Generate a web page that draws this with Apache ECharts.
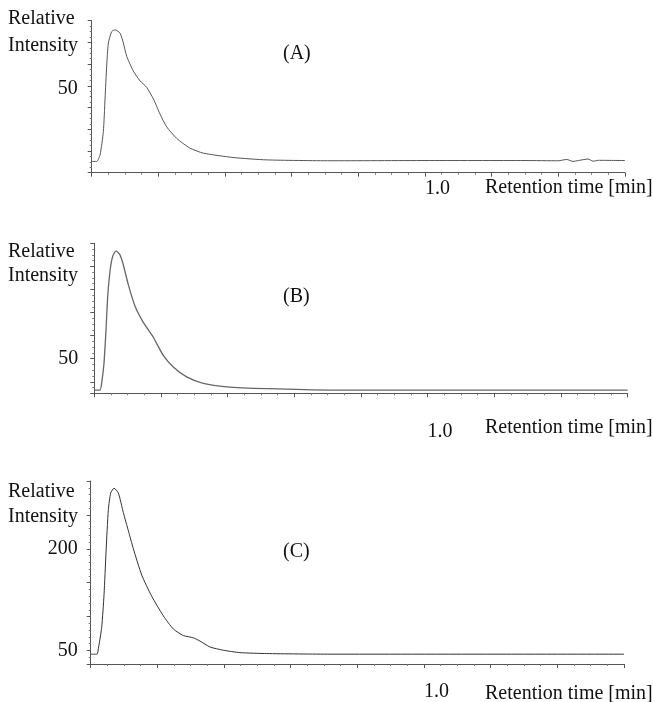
<!DOCTYPE html>
<html>
<head>
<meta charset="utf-8">
<script src="https://cdn.jsdelivr.net/npm/echarts@6/dist/echarts.min.js"></script>
<style>
  html, body { margin: 0; padding: 0; background: #fff; }
  #container { width: 653px; height: 702px; }
</style>
</head>
<body>
<div id="container"></div>
<script>
// retention time (min) and relative intensity
var timeA = [0, 0.015, 0.025, 0.035, 0.040, 0.045, 0.050, 0.060, 0.070, 0.085, 0.095, 0.105, 0.125, 0.145, 0.165, 0.185, 0.205, 0.225, 0.255, 0.295, 0.335, 0.424, 0.525, 0.715, 1.0, 1.3, 1.40, 1.425, 1.444, 1.46, 1.489, 1.504, 1.52, 1.6];
var valA  = [15.2, 15.2, 18.2, 29.0, 44.0, 59.1, 69.7, 75.0, 75.8, 74.3, 69.7, 63.6, 56.8, 52.3, 49.3, 44.0, 37.0, 31.1, 25.8, 21.3, 19.0, 17.0, 15.9, 15.5, 15.6, 15.6, 15.5, 16.1, 15.2, 15.6, 16.3, 15.3, 15.7, 15.6];

var timeB = [0, 0.017, 0.022, 0.029, 0.035, 0.040, 0.047, 0.055, 0.065, 0.077, 0.087, 0.102, 0.122, 0.147, 0.177, 0.207, 0.237, 0.277, 0.327, 0.397, 0.517, 0.707, 1.6];
var valB  = [36.4, 36.4, 39.3, 47.9, 62.1, 76.4, 87.8, 94.3, 96.7, 95.0, 90.7, 82.1, 72.8, 65.7, 59.3, 51.4, 46.4, 42.1, 39.3, 37.8, 37.0, 36.4, 36.4];

var timeC = [0, 0.019, 0.023, 0.033, 0.040, 0.046, 0.053, 0.060, 0.070, 0.083, 0.098, 0.113, 0.128, 0.153, 0.183, 0.218, 0.248, 0.278, 0.308, 0.328, 0.358, 0.398, 0.448, 0.528, 0.718, 1.6];
var valC  = [44.5, 44.5, 52.6, 84.1, 132.3, 195.2, 258.0, 282.2, 289.4, 282.2, 253.2, 226.5, 200.0, 161.3, 130.0, 101.0, 81.6, 72.0, 68.6, 63.8, 55.1, 50.3, 46.8, 45.4, 44.5, 44.5];

var xLabels = { 1: '1.0' };
var yLabelsA = [50];
var yLabelsB = [50];
var yLabelsC = [50, 200];

function pairs(t, v) {
    return t.map(function (x, i) { return [x, v[i]]; });
}

var serif = 'Liberation Serif';
var ink = '#111';

function xAxisFor(gridIndex, labelMargin) {
    return {
        type: 'value',
        gridIndex: gridIndex,
        min: 0,
        max: 1.6,
        interval: 0.2,
        splitLine: { show: false },
        axisLine: { lineStyle: { color: '#555', width: 1 } },
        axisTick: { length: 4, lineStyle: { color: '#555' } },
        minorTick: { show: true, splitNumber: 4, length: 2, lineStyle: { color: '#777' } },
        axisLabel: {
            margin: labelMargin,
            align: 'left',
            fontFamily: serif,
            fontSize: 20,
            color: ink,
            formatter: function (v) {
                var k = Math.round(v * 10) / 10;
                return xLabels[k] || '';
            }
        }
    };
}

function yAxisFor(gridIndex, min, max, split, minorSplit, shown, labelMargin, padTop) {
    return {
        type: 'value',
        gridIndex: gridIndex,
        min: min,
        max: max,
        splitNumber: split,
        splitLine: { show: false },
        axisLine: { show: true, lineStyle: { color: '#555', width: 1 } },
        axisTick: { show: true, length: 4, lineStyle: { color: '#555' } },
        minorTick: { show: true, splitNumber: minorSplit, length: 2, lineStyle: { color: '#777' } },
        axisLabel: {
            margin: labelMargin,
            color: ink,
            showMinLabel: false,
            showMaxLabel: false,
            rich: {
                n: { fontFamily: serif, fontSize: 20, color: ink, padding: [padTop, 0, 0, 0] }
            },
            formatter: function (v) {
                return shown.indexOf(Math.round(v)) >= 0 && Math.abs(v - Math.round(v)) < 1e-6 ? '{n|' + Math.round(v) + '}' : '';
            }
        }
    };
}

function lineSeries(idx, t, v, color, width) {
    return {
        type: 'line',
        xAxisIndex: idx,
        yAxisIndex: idx,
        data: pairs(t, v),
        showSymbol: false,
        symbol: 'none',
        smooth: 0.2,
        lineStyle: { color: color, width: width },
        silent: true
    };
}

function textBlock(text, left, top, size, lh) {
    return {
        text: text,
        left: left,
        top: top,
        padding: 0,
        textStyle: { fontFamily: serif, fontSize: size, fontWeight: 'normal', color: ink, lineHeight: lh }
    };
}

var chart = echarts.init(document.getElementById('container'));
var option = {
    animation: false,
    backgroundColor: '#fff',
    title: [
        textBlock('Relative\nIntensity', 8, 5, 20, 27),
        textBlock('(A)', 283, 43, 20, 22),
        textBlock('Retention time [min]', 485, 177, 20, 22),
        textBlock('Relative\nIntensity', 8, 240, 20, 24),
        textBlock('(B)', 283, 286, 20, 22),
        textBlock('Retention time [min]', 485, 417, 20, 22),
        textBlock('Relative\nIntensity', 8, 479, 20, 25),
        textBlock('(C)', 283, 541, 20, 22),
        textBlock('Retention time [min]', 485, 683, 20, 22)
    ],
    grid: [
        { left: 91.7, top: 20.7, width: 533.3, height: 152 },
        { left: 94.3, top: 243.3, width: 533.3, height: 150 },
        { left: 90.7, top: 481, width: 533.3, height: 186 }
    ],
    xAxis: [
        xAxisFor(0, 6),
        xAxisFor(1, 28),
        xAxisFor(2, 18)
    ],
    yAxis: [
        yAxisFor(0, 10, 80, 7, 4, yLabelsA, 14, 5),
        yAxisFor(1, 35, 100, 6, 4, yLabelsB, 16, 0),
        yAxisFor(2, 30, 300, 5, 5, yLabelsC, 13, 0)
    ],
    series: [
        lineSeries(0, timeA, valA, '#555', 1),
        lineSeries(1, timeB, valB, '#666', 1.3),
        lineSeries(2, timeC, valC, '#333', 1)
    ]
};
chart.setOption(option);
</script>
</body>
</html>
